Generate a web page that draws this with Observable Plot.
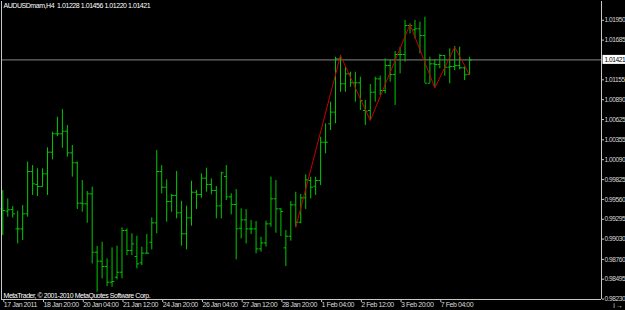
<!DOCTYPE html>
<html><head><meta charset="utf-8">
<script src="https://cdn.jsdelivr.net/npm/d3@7"></script>
<script src="https://cdn.jsdelivr.net/npm/@observablehq/plot@0.6"></script>
<style>
html,body{margin:0;padding:0;background:#000;}
#chart svg{display:block;}
#chart svg text{letter-spacing:-0.45px;}
</style></head><body><div id="chart"></div>
<script>
const symbol = "AUDUSDmam,H4";
const header = [1.01228, 1.01456, 1.01220, 1.01421];
const copyright = "MetaTrader, © 2001-2010 MetaQuotes Software Corp.";
const lastPrice = 1.01421;

const opens = [0.99434,0.99403,0.99425,0.99167,0.99167,0.99367,0.99932,0.99759,0.99732,0.99901,
1.00190,1.00435,1.00435,1.00470,1.00181,1.00048,0.99510,0.99501,0.99634,0.98856,
0.98736,0.98665,0.98456,0.98522,0.98589,0.99145,0.98878,0.98798,0.98714,0.98843,
0.98989,0.99247,0.99932,0.99723,0.99532,0.99612,0.99381,0.99101,0.99314,0.99656,
0.99625,0.99843,0.99759,0.99679,0.99474,0.99865,0.99594,0.99492,0.99176,0.99287,
0.99167,0.99167,0.98900,0.98980,0.99234,0.99568,0.99434,0.98914,0.99069,0.99487,
0.99256,0.99581,0.99812,0.99736,0.99812,1.00323,1.00568,1.00724,1.01435,1.01102,
1.01235,1.01115,1.01115,1.00746,1.00746,1.00990,1.01168,1.01013,1.01346,1.01226,
1.01493,1.01493,1.01880,1.01822,1.01835,1.01746,1.01110,1.01368,1.01360,1.01480,
1.01324,1.01333,1.01346,1.01315,1.01228];
const highs = [0.99679,0.99567,0.99465,0.99403,0.99479,1.00057,1.00012,0.99968,0.99968,1.00248,
1.00457,1.00657,1.00759,1.00546,1.00279,1.00057,0.99812,0.99665,0.99723,0.98932,
0.98989,0.98767,0.98914,0.98936,0.99181,0.99167,0.99101,0.99069,0.98923,0.99092,
0.99314,1.00212,1.00012,0.99821,0.99625,0.99932,0.99536,0.99470,0.99803,0.99679,
0.99901,0.99977,0.99834,0.99732,0.99923,1.00012,0.99634,0.99692,0.99434,0.99425,
0.99278,0.99265,0.99056,0.99270,0.99857,0.99812,0.99434,0.99145,0.99532,0.99656,
0.99625,0.99888,0.99856,0.99856,1.00390,1.00568,1.00857,1.01457,1.01480,1.01324,
1.01257,1.01257,1.01191,1.00879,1.01093,1.01191,1.01204,1.01435,1.01413,1.01533,
1.01591,1.01947,1.01902,1.01947,1.01924,1.01991,1.01457,1.01422,1.01493,1.01480,
1.01569,1.01600,1.01591,1.01324,1.01456];
const lows = [0.99078,0.99323,0.99310,0.98967,0.99012,0.99323,0.99612,0.99599,0.99723,0.99612,
1.00088,1.00399,1.00243,1.00123,0.99857,0.99425,0.99390,0.99243,0.98700,0.98322,
0.98500,0.98398,0.98389,0.98487,0.98500,0.98811,0.98811,0.98634,0.98678,0.98834,
0.98887,0.99101,0.99634,0.99256,0.99390,0.99301,0.98936,0.98887,0.99203,0.99425,
0.99576,0.99656,0.99621,0.99301,0.99301,0.99545,0.99354,0.98754,0.99034,0.98967,
0.99092,0.98834,0.98856,0.98923,0.99189,0.99109,0.99065,0.98665,0.99003,0.99189,
0.99234,0.99425,0.99567,0.99612,0.99745,1.00168,1.00479,1.00568,1.00990,1.00990,
1.01057,1.00857,1.00746,1.00546,1.00612,1.00857,1.00946,1.00968,1.01124,1.00813,
1.01235,1.01391,1.01769,1.01702,1.01502,1.01110,1.01110,1.01048,1.01302,1.01204,
1.01102,1.01279,1.01288,1.01146,1.01220];
const closes = [0.99412,0.99421,0.99367,0.99167,0.99367,0.99932,0.99768,0.99732,0.99901,1.00190,
1.00435,1.00435,1.00470,1.00181,1.00048,0.99510,0.99501,0.99634,0.98856,0.98736,
0.98665,0.98456,0.98465,0.98589,0.99145,0.98878,0.98967,0.98700,0.98843,0.98843,
0.99247,0.99932,0.99723,0.99532,0.99612,0.99381,0.99101,0.99314,0.99656,0.99625,
0.99843,0.99759,0.99679,0.99474,0.99914,0.99594,0.99492,0.99167,0.99287,0.99167,
0.99167,0.98900,0.98980,0.99234,0.99568,0.99434,0.99398,0.99069,0.99487,0.99256,
0.99581,0.99821,0.99723,0.99812,1.00323,1.00323,1.00724,1.01435,1.01102,1.01235,
1.01115,1.01115,1.00879,1.00737,1.00990,1.01168,1.01013,1.01346,1.01226,1.01493,
1.01493,1.01880,1.01880,1.01835,1.01746,1.01110,1.01368,1.01360,1.01480,1.01324,
1.01333,1.01346,1.01315,1.01222,1.01421];

const zigzagBars = [59, 68, 74, 82, 87, 91, 94];
const zigzagValues = [0.99189, 1.01480, 1.00612, 1.01895, 1.01048, 1.01591, 1.01220];

const timeTickBars = [0, 8, 16, 24, 32, 40, 48, 56, 64, 72, 80, 88];
const timeTickLabels = ["17 Jan 2011","18 Jan 20:00","20 Jan 04:00","21 Jan 12:00","24 Jan 20:00","26 Jan 04:00",
  "27 Jan 12:00","28 Jan 20:00","1 Feb 04:00","2 Feb 12:00","3 Feb 20:00","7 Feb 04:00"];
const priceTicks = [1.01950,1.01685,1.01155,1.00890,1.00625,1.00355,1.00090,0.99825,0.99560,0.99295,0.99030,0.98760,0.98495,0.98230];

const bars = opens.map((o, i) => ({i, open: o, high: highs[i], low: lows[i], close: closes[i]}));
const zigzag = zigzagBars.map((b, k) => ({i: b, v: zigzagValues[k]}));

const xDomain = [-0.262, 120.56];
const yDomain = [0.98225, 1.0220];
const green = "#00c800";
const border = "#c8c8c8";
const labelColor = "#d8d8d8";

const chart = Plot.plot({
  width: 625, height: 310,
  marginTop: 1, marginLeft: 1, marginRight: 24, marginBottom: 11,
  style: {background: "#000", color: labelColor, fontFamily: "'Liberation Sans', Arial, sans-serif", fontSize: "7px", overflow: "visible"},
  x: {type: "linear", domain: xDomain, axis: null},
  y: {type: "linear", domain: yDomain, axis: null},
  marks: [
    Plot.ruleY([lastPrice], {stroke: "#6a6e6e", strokeWidth: 1.2}),
    Plot.ruleX(bars, {x: "i", y1: "low", y2: "high", stroke: green}),
    Plot.link(bars, {x1: d => d.i - 0.45, x2: "i", y1: "open", y2: "open", stroke: green}),
    Plot.link(bars, {x1: "i", x2: d => d.i + 0.45, y1: "close", y2: "close", stroke: green}),
    Plot.line(zigzag, {x: "i", y: "v", stroke: "#c80000", strokeWidth: 1}),
    Plot.ruleX(xDomain, {stroke: border}),
    Plot.ruleY([yDomain[0]], {stroke: border}),
    Plot.axisY(priceTicks, {anchor: "right", tickSize: 2, tickPadding: 1, stroke: border, fill: labelColor,
      tickFormat: d => d.toFixed(5), textAnchor: "start", fontSize: 6.6}),
    Plot.axisX(timeTickBars, {anchor: "bottom", tickSize: 3, tickPadding: 0, stroke: border, fill: labelColor,
      tickFormat: d => timeTickLabels[timeTickBars.indexOf(d)], textAnchor: "start", dx: 1}),
    Plot.rect([lastPrice], {x1: xDomain[1], x2: xDomain[1] + 6, y1: d => d - 0.00060, y2: d => d + 0.00060, fill: "#fff", insetLeft: 1.5}),
    Plot.text([lastPrice], {x: xDomain[1], y: d => d, text: d => d.toFixed(5), fill: "#000", textAnchor: "start", dx: 3, fontSize: 6.6}),
    Plot.text([symbol + "  " + header.map(v => v.toFixed(5)).join(" ")], {frameAnchor: "top-left", dx: 2, dy: 2, lineAnchor: "top", fill: "#fff", textAnchor: "start"}),
    Plot.text([copyright], {frameAnchor: "bottom-left", dx: 2, dy: -2, lineAnchor: "bottom", fill: "#fff", textAnchor: "start"})
  ]
});
document.getElementById("chart").appendChild(chart);
</script>
</body></html>
